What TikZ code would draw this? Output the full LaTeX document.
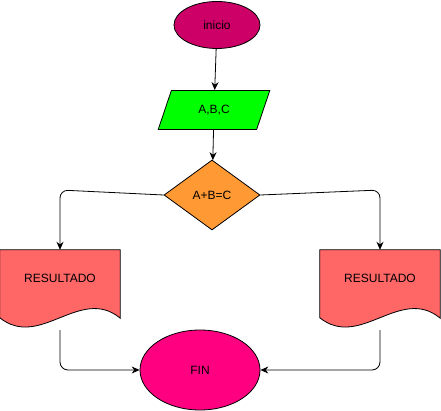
\documentclass[tikz,border=0pt]{standalone}
\usepackage{fontspec}
\setmainfont{Liberation Sans}
\usetikzlibrary{arrows.meta,positioning,shapes.geometric,calc,backgrounds}
\definecolor{inicio}{HTML}{CC0066}
\definecolor{datos}{HTML}{00FF00}
\definecolor{decision}{HTML}{FF9933}
\definecolor{resultado}{HTML}{FF6666}
\definecolor{fin}{HTML}{FF0080}

\begin{document}
\begin{tikzpicture}[x=1pt, y=-1pt,
  font=\fontsize{12}{14}\selectfont,
  caja/.style={draw, line width=0.8pt, inner sep=0pt},
  doc/.style={inner sep=0pt, minimum width=120pt, minimum height=80pt, text height=9pt, text depth=24pt},
  flecha/.style={-{Stealth[length=8pt,width=7pt]}, line width=0.8pt, rounded corners=8pt}]
  \useasboundingbox (0,0) rectangle (441,411);

  % nodos
  \node[caja, ellipse, fill=inicio, minimum width=86pt, minimum height=47pt] (ini) at (217,25) {inicio};
  \node[caja, trapezium, trapezium left angle=64, trapezium right angle=116, trapezium stretches,
        fill=datos, minimum width=112pt, minimum height=39pt] (dat) at (214,110) {A,B,C};
  \node[caja, diamond, aspect=1.37, fill=decision, minimum width=96pt, minimum height=70pt] (dec) at (212,195) {A+B=C};
  \node[doc] (resL) at (60,290) {RESULTADO};
  \node[doc] (resR) at (380,290) {RESULTADO};
  \node[caja, ellipse, fill=fin, minimum width=120pt, minimum height=80pt] (fin) at (200,370) {FIN};

  % forma de documento
  \begin{scope}[on background layer]
    \foreach \n in {resL,resR}
      \draw[fill=resultado, line width=0.8pt] (\n.south east) ++(0,-12) -- (\n.north east) -- (\n.north west) -- ++(0,68)
        .. controls +(40,32) and +(-40,-32) .. ++(120,0) -- cycle;
  \end{scope}

  % conectores
  \draw[flecha] (ini) -- (dat);
  \draw[flecha] (dat) -- (dec);
  \draw[flecha] (dec.west) -- ($(resL.north |- dec.west)+(0,-5)$) -- (resL.north);
  \draw[flecha] (dec.east) -- ($(resR.north |- dec.east)+(0,-5)$) -- (resR.north);
  \draw[flecha] (resL.south) -- (resL.south |- fin.west) -- (fin.west);
  \draw[flecha] (resR.south) -- (resR.south |- fin.east) -- (fin.east);
\end{tikzpicture}
\end{document}
